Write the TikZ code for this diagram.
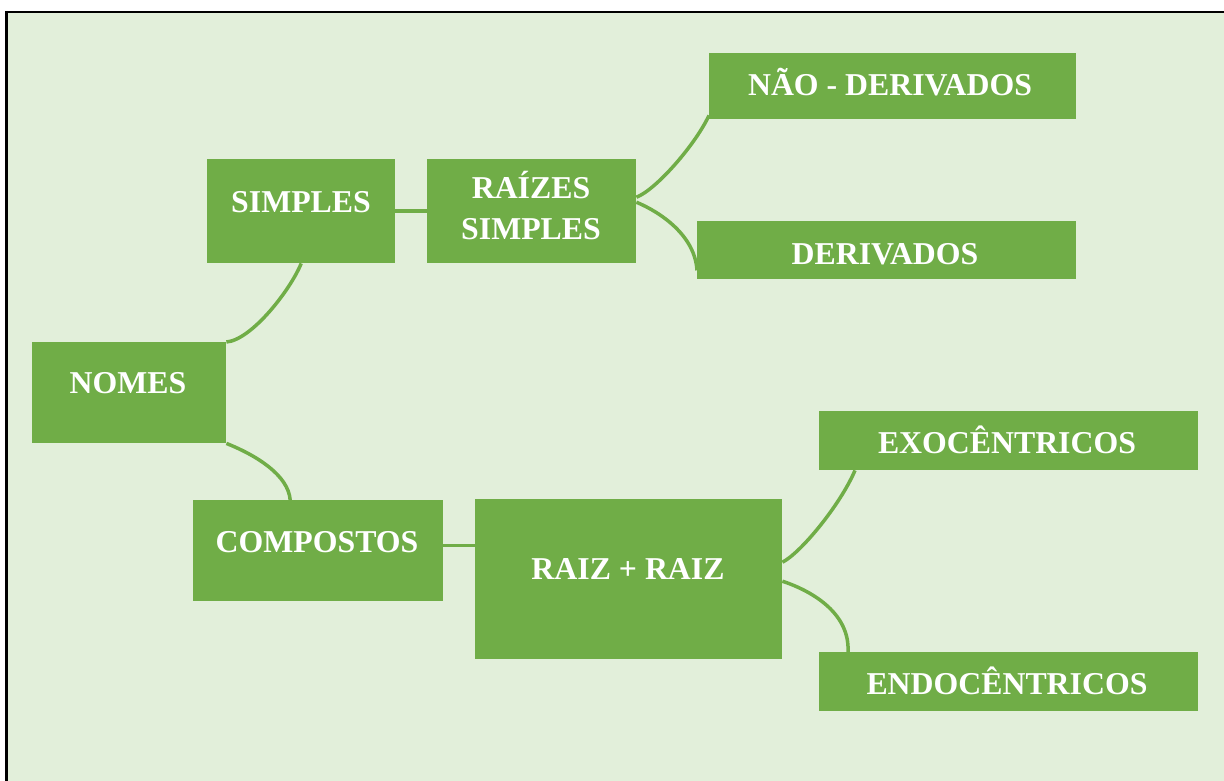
\documentclass[tikz,border=0pt]{standalone}
\usepackage{fontspec}
\setmainfont{Liberation Serif}
\usetikzlibrary{positioning}
\definecolor{leafgreen}{HTML}{70AD47}
\definecolor{paleback}{HTML}{E2EFDA}

\begin{document}
\begin{tikzpicture}[x=1pt,y=-1pt,
  box/.style={fill=leafgreen,inner sep=0pt,anchor=north west},
  lbl/.style={text=white,font=\fontsize{31.8}{40}\selectfont\bfseries,inner sep=0pt,anchor=base,align=center},
  link/.style={draw=leafgreen,line width=3.5pt}]
\useasboundingbox (0,0) rectangle (1224,781);
\fill[white] (0,0) rectangle (1224,781);
\fill[paleback] (5,11) rectangle (1224,781);
\draw[line width=2pt] (5,12) -- (1224,12);
\draw[line width=3.5pt] (6.5,11) -- (6.5,781);

\node[box,minimum width=188,minimum height=104] (simples) at (207,159) {};
\node[box,minimum width=209,minimum height=104] (raizes) at (427,159) {};
\node[box,minimum width=367,minimum height=66] (nao) at (709,53) {};
\node[box,minimum width=379,minimum height=58] (derivados) at (697,221) {};
\node[box,minimum width=194,minimum height=101] (nomes) at (32,342) {};
\node[box,minimum width=250,minimum height=101] (compostos) at (193,500) {};
\node[box,minimum width=307,minimum height=160] (raiz) at (475,499) {};
\node[box,minimum width=379,minimum height=59] (exo) at (819,411) {};
\node[box,minimum width=379,minimum height=59] (endo) at (819,652) {};

\node[lbl] (simplesT) at (301,212.7) {SIMPLES};
\node[lbl] (raizesT) at (531,239) {RAÍZES\\SIMPLES};
\node[lbl] (naoT) at (890,96) {NÃO - DERIVADOS};
\node[lbl] (derivadosT) at (885,264) {DERIVADOS};
\node[lbl] (nomesT) at (128,393) {NOMES};
\node[lbl] (compostosT) at (317,552) {COMPOSTOS};
\node[lbl] (raizT) at (628,579) {RAIZ + RAIZ};
\node[lbl] (exoT) at (1007,453) {EXOCÊNTRICOS};
\node[lbl] (endoT) at (1007,694.7) {ENDOCÊNTRICOS};

\draw[link] (nomes.north east) .. controls +(25,-2) and +(-11,27) .. (simples.south);
\draw[link] (nomes.south east) .. controls +(30,12) and +(-2,-25) .. ([xshift=-28pt]compostos.north);
\draw[link] (simples) -- (raizes);
\draw[link] ([yshift=5pt]compostos.east) -- ([yshift=5pt]compostos.east -| raiz.west);
\draw[link] ([yshift=14pt]raizes.east) .. controls +(19,-7) and +(-14,30) .. ([yshift=4pt]nao.south west);
\draw[link] ([yshift=9pt]raizes.east) .. controls +(24,10) and +(-2,-35) .. ([yshift=9pt]derivados.south west);
\draw[link] ([yshift=17pt]raiz.east) .. controls +(18,-9) and +(-15,35) .. ([xshift=36pt]exo.south west);
\draw[link] ([yshift=-2pt]raiz.east) .. controls +(33,11) and +(2,-37) .. ([xshift=29pt]endo.north west);
\end{tikzpicture}
\end{document}
